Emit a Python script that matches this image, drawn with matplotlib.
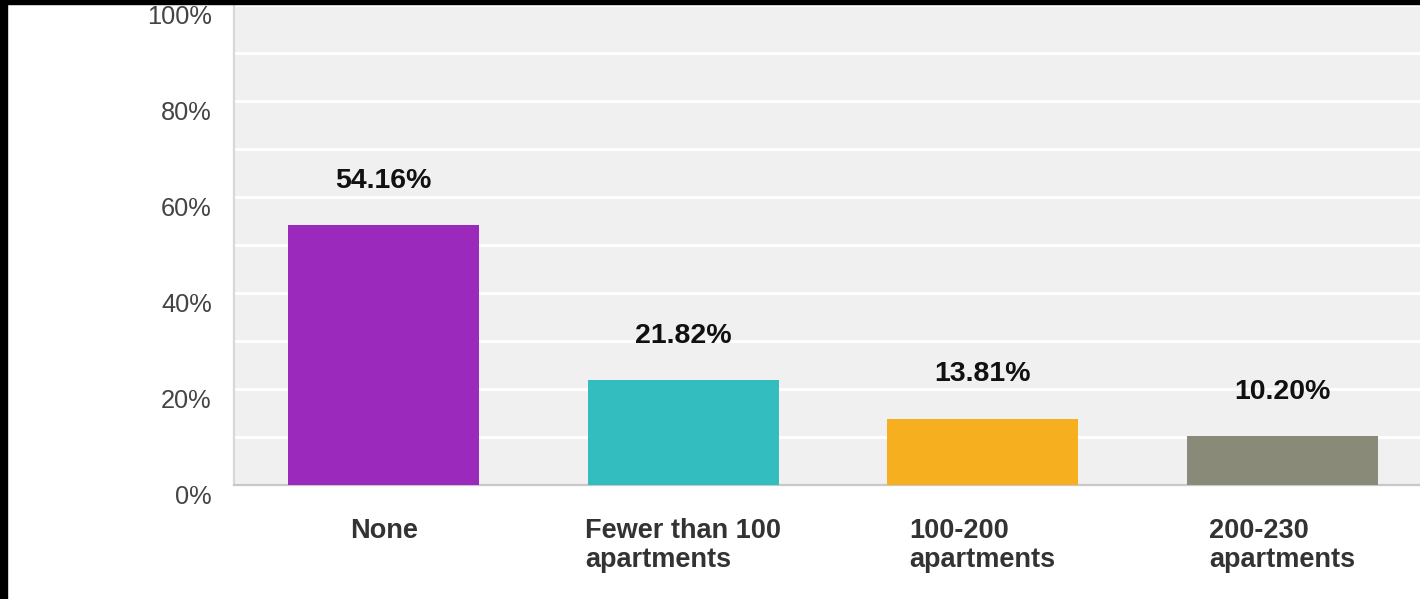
import matplotlib
matplotlib.use('Agg')
import matplotlib.pyplot as plt
import matplotlib.transforms as mtransforms
from matplotlib.patches import Rectangle

plt.rcParams['font.family'] = ['Liberation Sans', 'DejaVu Sans']

categories = ['None', 'Fewer than 100\napartments', '100-200\napartments', '200-230\napartments']
values = [54.16, 21.82, 13.81, 10.20]
value_labels = ['54.16%', '21.82%', '13.81%', '10.20%']
colors = ['#9a29bc', '#33bdbf', '#f6af1f', '#898a78']
yticks = [0, 20, 40, 60, 80, 100]
ytick_labels = ['0%', '20%', '40%', '60%', '80%', '100%']
grid_ticks = [10, 30, 50, 70, 90]

W, H = 1420, 599
fig = plt.figure(figsize=(W / 100, H / 100), dpi=100)
fig.patch.set_facecolor('white')

# axes box in pixels: left 234, right past edge, baseline at 485, top at 5
ax = fig.add_axes([234 / W, (H - 485) / H, (W - 234) / W, 480 / H])
ax.set_facecolor('#f0f0f0')

x = list(range(len(categories)))
ax.bar(x, values, width=0.638, color=colors, zorder=3)
ax.set_xlim(-0.5, -0.5 + (W - 234) / 299.5)
ax.set_ylim(0, 100)

for xi, v, lab in zip(x, values, value_labels):
    ax.annotate(lab, (xi, v), xytext=(0, 32), textcoords='offset points',
                ha='center', va='center', fontsize=20.5, fontweight='bold',
                color='#111111', zorder=4)

ax.set_yticks(yticks)
ax.set_yticklabels(ytick_labels, fontsize=18.3, color='#444444')
ax.set_yticks(grid_ticks, minor=True)
ax.grid(True, axis='y', which='both', color='white', linewidth=2.2, zorder=1)
ax.tick_params(axis='y', which='both', length=0, pad=16)
offset = mtransforms.ScaledTranslation(0, -9 / 100, fig.dpi_scale_trans)
for lbl in ax.get_yticklabels():
    lbl.set_transform(lbl.get_transform() + offset)

ax.set_xticks(x)
ax.set_xticklabels(categories, fontsize=19.5, fontweight='bold', color='#333333',
                   linespacing=1.15)
for lbl in ax.get_xticklabels():
    lbl.set_multialignment('left')
ax.tick_params(axis='x', length=0, pad=24)

for side in ['top', 'right']:
    ax.spines[side].set_visible(False)
ax.spines['left'].set_color('#d8d8d8')
ax.spines['left'].set_linewidth(1.6)
ax.spines['bottom'].set_color('#c8c8c8')
ax.spines['bottom'].set_linewidth(1.6)

# black screen borders on left and top
fig.patches.append(Rectangle((0, 0), 7 / W, 1, transform=fig.transFigure,
                             color='black', zorder=10))
fig.patches.append(Rectangle((0, 1 - 4 / H), 1, 4 / H, transform=fig.transFigure,
                             color='black', zorder=10))

fig.savefig('out.png', dpi=100)
